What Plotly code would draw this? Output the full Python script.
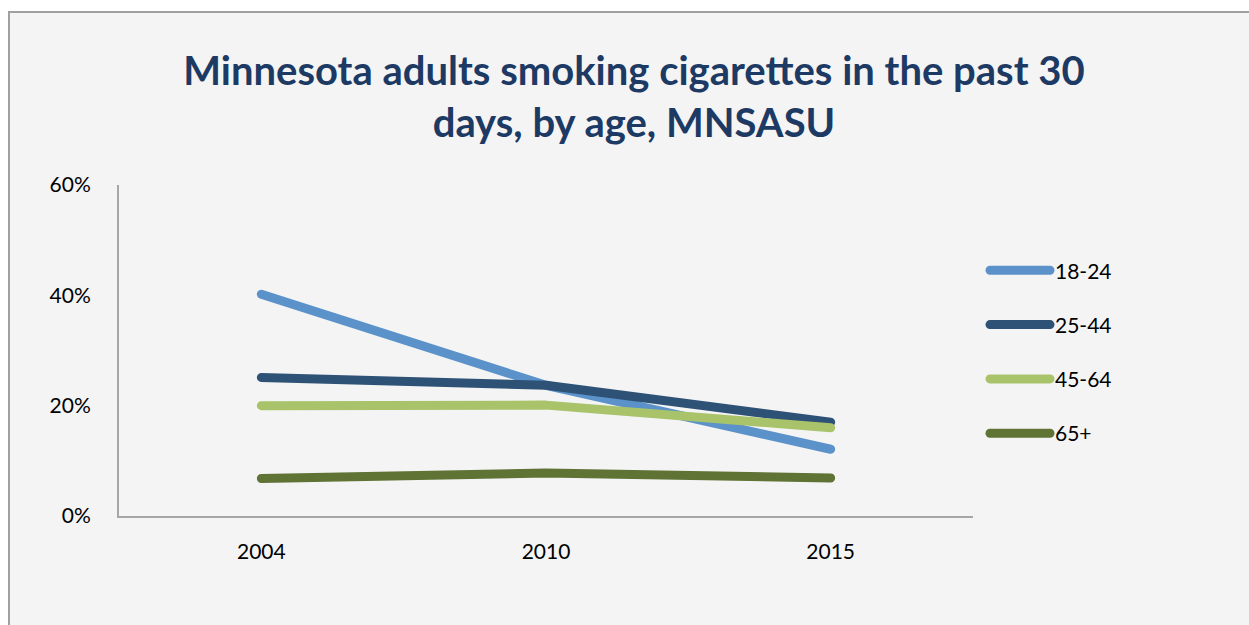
import plotly.graph_objects as go

# Survey years and smoking prevalence (share of adults) by age group
years = ["2004", "2010", "2015"]
age_18_24 = [0.402, 0.237, 0.121]
age_25_44 = [0.251, 0.237, 0.170]
age_45_64 = [0.200, 0.201, 0.160]
age_65_plus = [0.068, 0.078, 0.069]

series = [
    ("18-24", age_18_24, "#5b92c9"),
    ("25-44", age_25_44, "#2e5276"),
    ("45-64", age_45_64, "#a8c36a"),
    ("65+", age_65_plus, "#5f7335"),
]

fig = go.Figure()
for i, (name, vals, color) in enumerate(series):
    fig.add_trace(go.Scatter(
        x=years, y=vals, name=name, mode="lines",
        legendgroup=f"g{i}",
        line=dict(color=color, width=9),
        hoverinfo="x+y+name",
    ))

axis_color = "#a6a6a6"
L, R, T, B = 119, 276, 185, 109
W, H = 1249, 625
pw, ph = W - L - R, H - T - B

def px_x(p):
    return (p - L) / pw

def px_y(p):
    return (H - B - p) / ph

fig.update_layout(
    width=W, height=H,
    margin=dict(l=L, r=R, t=T, b=B),
    paper_bgcolor="white",
    plot_bgcolor="rgba(0,0,0,0)",
    font=dict(family="Lato, Open Sans, sans-serif", color="#000000", size=21),
    title=dict(
        text="Minnesota adults smoking cigarettes in the past 30<br>days, by age, MNSASU",
        x=634 / W, xref="container", xanchor="center",
        y=1 - 85 / H, yref="container", yanchor="middle",
        font=dict(family="Lato, Open Sans, sans-serif", size=40, color="#1c3a63", weight="bold"),
    ),
    xaxis=dict(
        type="category", range=[-0.5, 2.5],
        showline=True, linecolor=axis_color, linewidth=2,
        showgrid=False, zeroline=False, ticks="",
        tickfont=dict(size=21), ticklabelstandoff=16,
    ),
    yaxis=dict(
        range=[0, 0.6], dtick=0.2, tickformat=".0%",
        showline=True, linecolor=axis_color, linewidth=2,
        showgrid=False, zeroline=False, ticks="",
        tickfont=dict(size=21), ticklabelstandoff=22,
    ),
    legend=dict(
        x=px_x(985), xanchor="left", y=0.495, yanchor="middle",
        bgcolor="rgba(0,0,0,0)", font=dict(size=21),
        tracegroupgap=24, itemwidth=60,
    ),
    shapes=[dict(
        type="rect", xref="paper", yref="paper", layer="below",
        x0=px_x(9), x1=px_x(W + 20), y0=px_y(12), y1=px_y(H + 20),
        line=dict(color="#a0a0a0", width=2), fillcolor="#f4f4f4",
    )],
    showlegend=True,
)

post = """
var gd = document.querySelector('.js-plotly-plot');
function rounden(){
  gd.querySelectorAll('.scatterlayer .js-line, .legend .js-line').forEach(function(p){
    p.style.strokeLinecap = 'round';
    p.style.strokeLinejoin = 'round';
  });
}
rounden();
gd.on('plotly_afterplot', rounden);
"""

fig.write_html("out.html", post_script=post)
